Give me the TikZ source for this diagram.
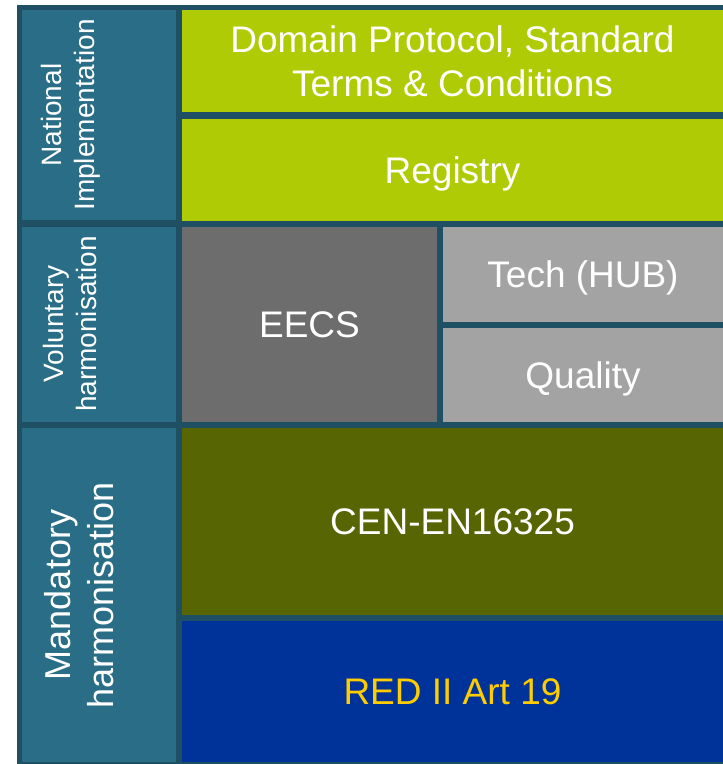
\documentclass[tikz,border=0pt]{standalone}
\usepackage{fontspec}
\setmainfont{Liberation Sans}
\usepackage{tikz}
\usepackage{xcolor}
\definecolor{frameColor}{HTML}{1F4F63}
\definecolor{cellColorA}{HTML}{2A6D86}
\definecolor{cellColorB}{HTML}{AFCB05}
\definecolor{cellColorC}{HTML}{6D6D6D}
\definecolor{cellColorD}{HTML}{A3A3A3}
\definecolor{cellColorE}{HTML}{576502}
\definecolor{cellColorF}{HTML}{003399}
\definecolor{labelTextColorA}{HTML}{FFFFFF}
\definecolor{labelTextColorB}{HTML}{FFCC00}
\def\textNational{National\\Implementation}
\def\textVoluntary{Voluntary\\harmonisation}
\def\textMandatory{Mandatory\\harmonisation}
\def\textDomain{Domain Protocol, Standard\\Terms \& Conditions}
\def\textRegistry{Registry}
\def\textEecs{EECS}
\def\textTech{Tech (HUB)}
\def\textQuality{Quality}
\def\textCen{CEN-EN16325}
\def\textRed{RED II Art 19}
\tikzset{
  cell/.style={anchor=north west, inner sep=0pt, outer sep=0pt, align=center,
    text=labelTextColorA, font=\fontsize{37bp}{44bp}\selectfont},
  sideLabel/.style={rotate=90, inner sep=0pt, align=center, text=labelTextColorA,
    font=\fontsize{28bp}{33bp}\selectfont}
}

\begin{document}
\begin{tikzpicture}[x=1bp,y=-1bp]
\useasboundingbox (0, 0) rectangle (723, 764);

% frame
\fill[frameColor] (17, 5) rectangle (723, 764);

% left column
\begin{scope}
\node[cell, fill=cellColorA, minimum width=154bp, minimum height=210bp]
(natCell) at (22, 10) {};
\node[cell, fill=cellColorA, minimum width=154bp, minimum height=195bp]
(volCell) at (22, 227) {};
\node[cell, fill=cellColorA, minimum width=154bp, minimum height=334bp]
(mandCell) at (22, 428) {};
\end{scope}

% right column
\begin{scope}
\node[cell, fill=cellColorB, minimum width=541bp, minimum height=102bp]
(domainCell) at (182, 10) {\textDomain};
\node[cell, fill=cellColorB, minimum width=541bp, minimum height=102bp]
(registryCell) at (182, 119) {};
\node[cell, fill=cellColorC, minimum width=255bp, minimum height=195bp]
(eecsCell) at (182, 227) {\textEecs};
\node[cell, fill=cellColorD, minimum width=280bp, minimum height=95bp]
(techCell) at (443, 227) {};
\node[cell, fill=cellColorD, minimum width=280bp, minimum height=94bp]
(qualityCell) at (443, 328) {};
\node[cell, fill=cellColorE, minimum width=541bp, minimum height=187bp]
(cenCell) at (182, 428) {\textCen};
\node[cell, fill=cellColorF, minimum width=541bp, minimum height=141bp,
text=labelTextColorB] (redCell) at (182, 621) {\textRed};
\end{scope}

% label layer
\begin{scope}
\node[cell, anchor=center, yshift=-4bp] (registryLabel) at (registryCell) {\textRegistry};
\node[cell, anchor=center, yshift=-3bp] (techLabel) at (techCell) {\textTech};
\node[cell, anchor=center, yshift=-4bp] (qualityLabel) at (qualityCell) {\textQuality};
\node[sideLabel] (natLabel) at (71, 115) {\textNational};
\node[sideLabel] (volLabel) at (70, 324) {\textVoluntary};
\node[sideLabel, font=\fontsize{36bp}{43bp}\selectfont]
(mandLabel) at (79, 595) {\textMandatory};
\end{scope}

\end{tikzpicture}
\end{document}
